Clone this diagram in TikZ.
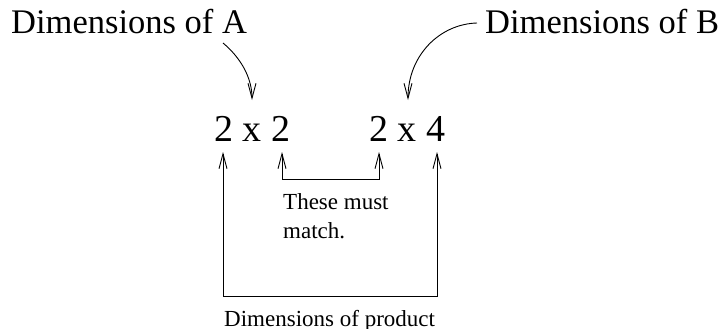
\documentclass[tikz,border=0pt]{standalone}
\usepackage{fontspec}
\setmainfont{Liberation Serif}
\usetikzlibrary{arrows.meta}
\begin{document}
\begin{tikzpicture}[x=1pt,y=-1pt,
  bigtxt/.style={anchor=base west,inner sep=0pt,font=\fontsize{34.5}{40}\selectfont},
  dimtxt/.style={anchor=base west,inner sep=0pt,font=\fontsize{38}{42}\selectfont},
  smalltxt/.style={anchor=base west,inner sep=0pt,align=left,font=\fontsize{23}{29}\selectfont},
  conn/.style={line width=0.9pt,-{Straight Barb[length=15pt,width=8pt,line width=0.9pt]}},
  biconn/.style={line width=0.9pt,{Straight Barb[length=15pt,width=8pt,line width=0.9pt]}-{Straight Barb[length=15pt,width=8pt,line width=0.9pt]}}]
\useasboundingbox (0,0) rectangle (723,329);
% labels
\node[bigtxt] (lA) at (11,34) {Dimensions of A};
\node[bigtxt] (lB) at (485,34) {Dimensions of B};
\node[dimtxt] (dA) at (214,141) {2 x 2};
\node[dimtxt] (dB) at (369,141) {2 x 4};
\node[smalltxt] (match) at (283,238) {These must\\match.};
\node[smalltxt] (prod) at (224,326) {Dimensions of product};
% connector end points
\coordinate (aS) at (223,43);
\coordinate (aE) at (252,100);
\coordinate (bS) at (477,23);
\coordinate (bE) at (408,100);
\coordinate (o1) at (223,152);
\coordinate (o1b) at (223,296);
\coordinate (o2b) at (437,296);
\coordinate (o2) at (437,152);
\coordinate (i1) at (282,152);
\coordinate (i1b) at (282,179);
\coordinate (i2b) at (379,179);
\coordinate (i2) at (379,152);
% connectors
\draw[conn] (aS) .. controls (241,58) and (252,78) .. (aE);
\draw[conn] (bS) .. controls (440,24) and (408,55) .. (bE);
\draw[biconn] (o1) -- (o1b) -- (o2b) -- (o2);
\draw[biconn] (i1) -- (i1b) -- (i2b) -- (i2);
\end{tikzpicture}
\end{document}
